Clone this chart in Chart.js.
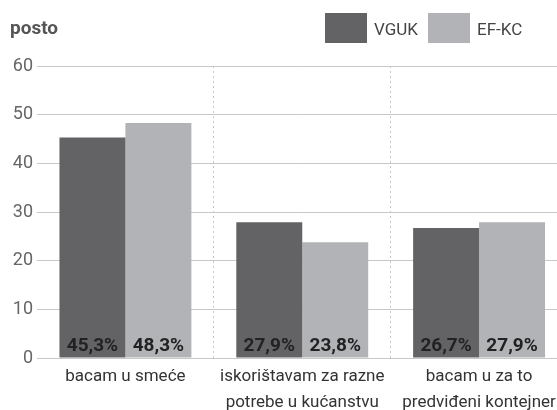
<!DOCTYPE html>
<html>
<head>
<meta charset="utf-8">
<script src="https://cdn.jsdelivr.net/npm/chart.js@4"></script>
<style>
  html, body { margin: 0; padding: 0; overflow: hidden; background: #fff; }
  #wrap { position: relative; width: 570px; height: 410px; }
</style>
</head>
<body>
<div id="wrap"><canvas id="chart" width="570" height="410"></canvas></div>
<script>
var FONT = 'Roboto, "Liberation Sans", sans-serif';

var categories = [
    ['bacam u smeće'],
    ['iskorištavam za razne', 'potrebe u kućanstvu'],
    ['bacam u za to', 'predviđeni kontejner']
];
var seriesNames = ['VGUK', 'EF-KC'];
var vguk = [45.3, 27.9, 26.7];
var efkc = [48.3, 23.8, 27.9];
var yTicks = [0, 10, 20, 30, 40, 50, 60];
var unitLabel = 'posto';

var colors = ['#636365', '#b2b3b6'];

// legenda i naslov osi crtaju se rucno
var headerPlugin = {
    id: 'header',
    afterDraw: function (chart) {
        var ctx = chart.ctx;
        ctx.save();
        ctx.font = 'bold 19px ' + FONT;
        ctx.fillStyle = '#555';
        ctx.textBaseline = 'alphabetic';
        ctx.textAlign = 'left';
        ctx.fillText(unitLabel, 10, 34);

        var boxes = [325, 428];
        ctx.font = '17px ' + FONT;
        chart.data.datasets.forEach(function (ds, i) {
            ctx.fillStyle = ds.backgroundColor;
            ctx.fillRect(boxes[i], 13, 42, 30);
            ctx.fillStyle = '#444';
            ctx.textBaseline = 'alphabetic';
            ctx.fillText(ds.label, boxes[i] + 49, 35);
        });
        ctx.restore();
    }
};

var valueLabels = {
    id: 'valueLabels',
    afterDatasetsDraw: function (chart) {
        var ctx = chart.ctx;
        ctx.save();
        ctx.font = 'bold 19px ' + FONT;
        ctx.fillStyle = '#222';
        ctx.textAlign = 'center';
        ctx.textBaseline = 'alphabetic';
        chart.data.datasets.forEach(function (ds, i) {
            chart.getDatasetMeta(i).data.forEach(function (bar, j) {
                var txt = ds.data[j].toFixed(1).replace('.', ',') + '%';
                ctx.fillText(txt, bar.x, chart.chartArea.bottom - 7);
            });
        });
        ctx.restore();
    }
};

new Chart(document.getElementById('chart'), {
    type: 'bar',
    data: {
        labels: categories,
        datasets: [
            { label: seriesNames[0], data: vguk, backgroundColor: colors[0] },
            { label: seriesNames[1], data: efkc, backgroundColor: colors[1] }
        ]
    },
    options: {
        responsive: false,
        animation: false,
        devicePixelRatio: 1,
        layout: { padding: { top: 66, left: 0, right: 2.5, bottom: 0 } },
        datasets: { bar: { categoryPercentage: 0.746, barPercentage: 1.0, borderWidth: 0 } },
        plugins: {
            legend: { display: false },
            tooltip: { enabled: false }
        },
        scales: {
            x: {
                grid: {
                    offset: true,
                    drawTicks: false,
                    color: function (c) { return (c.index === 0 || c.index === 3) ? 'rgba(0,0,0,0)' : '#c8c8c8'; },
                    lineWidth: 1
                },
                border: { display: false, dash: [2, 3] },
                ticks: { font: { family: FONT, size: 17, lineHeight: 1.5 }, color: '#333', padding: 6, maxRotation: 0, autoSkip: false },
                afterFit: function (s) { s.height = 52; }
            },
            y: {
                min: 0,
                max: 60,
                afterBuildTicks: function (s) { s.ticks = yTicks.map(function (v) { return { value: v }; }); },
                grid: { drawTicks: false, color: '#c8c8c8', lineWidth: 1 },
                border: { display: false },
                ticks: { font: { family: FONT, size: 18 }, color: '#666', padding: 4 },
                afterFit: function (s) { s.width = 37; }
            }
        }
    },
    plugins: [headerPlugin, valueLabels]
});
</script>
</body>
</html>
